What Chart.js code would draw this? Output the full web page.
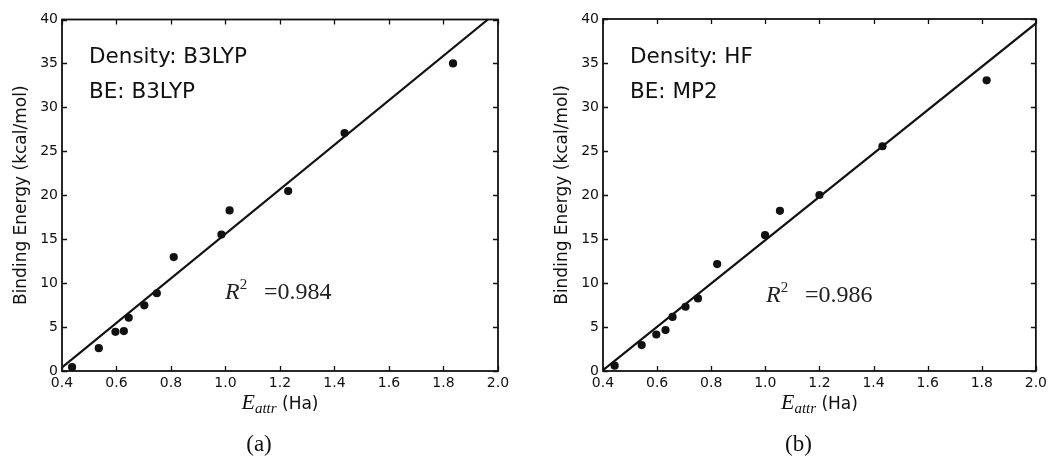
<!DOCTYPE html>
<html>
<head>
<meta charset="utf-8">
<script src="https://cdn.jsdelivr.net/npm/chart.js@4.4.1/dist/chart.umd.min.js"></script>
<style>
html, body { margin: 0; padding: 0; background: #fff; }
#wrap { position: relative; width: 1051px; height: 457px; overflow: hidden; }
canvas { position: absolute; top: 0; }
</style>
</head>
<body>
<div id="wrap">
  <canvas id="panelA" width="525" height="457" style="left:0"></canvas>
  <canvas id="panelB" width="526" height="457" style="left:525px"></canvas>
</div>
<script>
// attraction energy (Ha) vs binding energy (kcal/mol)
const xTicks = [0.4, 0.6, 0.8, 1.0, 1.2, 1.4, 1.6, 1.8, 2.0];
const yTicks = [0, 5, 10, 15, 20, 25, 30, 35, 40];

const b3lypX = [0.437, 0.535, 0.596, 0.627, 0.645, 0.702, 0.748, 0.81, 0.985, 1.015, 1.23, 1.437, 1.835];
const b3lypY = [0.45, 2.6, 4.46, 4.54, 6.06, 7.47, 8.85, 12.96, 15.52, 18.27, 20.48, 27.07, 35.0];
const b3lypFitX = [0.4, 1.963];
const b3lypFitY = [0.4, 40];

const mp2X = [0.443, 0.543, 0.597, 0.631, 0.657, 0.705, 0.751, 0.822, 0.999, 1.054, 1.2, 1.433, 1.818];
const mp2Y = [0.6, 2.95, 4.15, 4.65, 6.15, 7.3, 8.25, 12.15, 15.44, 18.2, 20.0, 25.54, 33.03];
const mp2FitX = [0.4, 2.0];
const mp2FitY = [0.1, 39.5];

const INK = '#111';
const SANS = '"DejaVu Sans", sans-serif';
const SERIF = '"Liberation Serif", serif';

const toPoints = (xs, ys) => xs.map((x, i) => ({ x: x, y: ys[i] }));

// writes a run of [text, font, dy] pieces left to right, returns end x
function drawRuns(ctx, runs, x, y) {
    runs.forEach(([txt, font, dy]) => {
        ctx.font = font;
        ctx.fillText(txt, x, y + (dy || 0));
        x += ctx.measureText(txt).width;
    });
    return x;
}

function runsWidth(ctx, runs) {
    let w = 0;
    runs.forEach(([txt, font]) => { ctx.font = font; w += ctx.measureText(txt).width; });
    return w;
}

const panelDeco = {
    id: 'panelDeco',
    afterDraw(chart, args, opts) {
        const ctx = chart.ctx;
        const a = chart.chartArea;
        const xs = chart.scales.x, ys = chart.scales.y;
        ctx.save();
        ctx.strokeStyle = INK;
        ctx.fillStyle = INK;

        // frame
        ctx.lineWidth = 1.8;
        ctx.strokeRect(a.left, a.top, a.right - a.left, a.bottom - a.top);

        // inward ticks on all four sides
        ctx.lineWidth = 1.3;
        ctx.beginPath();
        xTicks.forEach(v => {
            const px = Math.round(xs.getPixelForValue(v)) + 0.5;
            ctx.moveTo(px, a.bottom); ctx.lineTo(px, a.bottom - 5);
            ctx.moveTo(px, a.top); ctx.lineTo(px, a.top + 5);
        });
        yTicks.forEach(v => {
            const py = Math.round(ys.getPixelForValue(v)) + 0.5;
            ctx.moveTo(a.left, py); ctx.lineTo(a.left + 5, py);
            ctx.moveTo(a.right, py); ctx.lineTo(a.right - 5, py);
        });
        ctx.stroke();

        // method labels
        ctx.textBaseline = 'alphabetic';
        ctx.textAlign = 'left';
        ctx.font = '21.5px ' + SANS;
        ctx.fillText(opts.density, a.left + 27, a.top + 43.5);
        ctx.fillText(opts.be, a.left + 27, a.top + 78.5);

        // R^2 annotation
        ctx.fillStyle = '#222';
        drawRuns(ctx, [
            ['R', 'italic 24px ' + SERIF, 0],
            ['2', '15px ' + SERIF, -10]
        ], a.left + 163, opts.r2Base);
        ctx.font = '24px ' + SERIF;
        ctx.fillText('=' + opts.r2, a.left + 202, opts.r2Base);

        // y axis title
        ctx.fillStyle = INK;
        ctx.save();
        ctx.translate(a.left - 42, (a.top + a.bottom) / 2);
        ctx.rotate(-Math.PI / 2);
        ctx.textAlign = 'center';
        ctx.font = '17px ' + SANS;
        ctx.fillText('Binding Energy (kcal/mol)', 0, 6);
        ctx.restore();

        // x axis title
        const cx = (a.left + a.right) / 2;
        const xRuns = [
            ['E', 'italic 22px ' + SERIF, 0],
            ['attr', 'italic 15px ' + SERIF, 4],
            [' (Ha)', '17px ' + SANS, 0]
        ];
        drawRuns(ctx, xRuns, cx - runsWidth(ctx, xRuns) / 2, a.bottom + 38);

        // panel caption
        ctx.textAlign = 'center';
        ctx.font = '23px ' + SERIF;
        ctx.fillText(opts.caption, cx - 21, a.bottom + 80);
        ctx.restore();
    }
};

function makePanel(canvasId, pts, fit, area, deco) {
    const canvas = document.getElementById(canvasId);
    return new Chart(canvas.getContext('2d'), {
        type: 'scatter',
        data: {
            datasets: [
                {
                    type: 'line',
                    data: fit,
                    borderColor: INK,
                    borderWidth: 2.2,
                    pointRadius: 0,
                    fill: false,
                    order: 2
                },
                {
                    data: pts,
                    backgroundColor: INK,
                    borderColor: INK,
                    pointRadius: 4.1,
                    pointBorderWidth: 0,
                    order: 1
                }
            ]
        },
        options: {
            responsive: false,
            animation: false,
            events: [],
            layout: { padding: { top: area.top, right: canvas.width - area.right, left: 0, bottom: 0 } },
            plugins: { legend: { display: false }, tooltip: { enabled: false }, panelDeco: deco },
            scales: {
                x: {
                    type: 'linear',
                    min: 0.4, max: 2.0,
                    afterBuildTicks: s => { s.ticks = xTicks.map(v => ({ value: v })); },
                    afterFit: s => { s.height = canvas.height - area.bottom; },
                    grid: { display: false, drawTicks: false },
                    border: { display: false },
                    ticks: {
                        autoSkip: false, maxRotation: 0, padding: 4,
                        color: INK, font: { family: SANS, size: 14 },
                        callback: v => v.toFixed(1)
                    }
                },
                y: {
                    type: 'linear',
                    min: 0, max: 40,
                    afterBuildTicks: s => { s.ticks = yTicks.map(v => ({ value: v })); },
                    afterFit: s => { s.width = area.left; },
                    grid: { display: false, drawTicks: false },
                    border: { display: false },
                    ticks: {
                        autoSkip: false, padding: 4,
                        color: INK, font: { family: SANS, size: 14 },
                        callback: v => String(v)
                    }
                }
            }
        },
        plugins: [panelDeco]
    });
}

makePanel('panelA', toPoints(b3lypX, b3lypY), toPoints(b3lypFitX, b3lypFitY),
    { left: 62, right: 498, top: 19.5, bottom: 371 },
    { density: 'Density: B3LYP', be: 'BE: B3LYP', r2: '0.984', r2Base: 299, caption: '(a)' });

makePanel('panelB', toPoints(mp2X, mp2Y), toPoints(mp2FitX, mp2FitY),
    { left: 78, right: 514, top: 19, bottom: 371 },
    { density: 'Density: HF', be: 'BE: MP2', r2: '0.986', r2Base: 302, caption: '(b)' });
</script>
</body>
</html>
